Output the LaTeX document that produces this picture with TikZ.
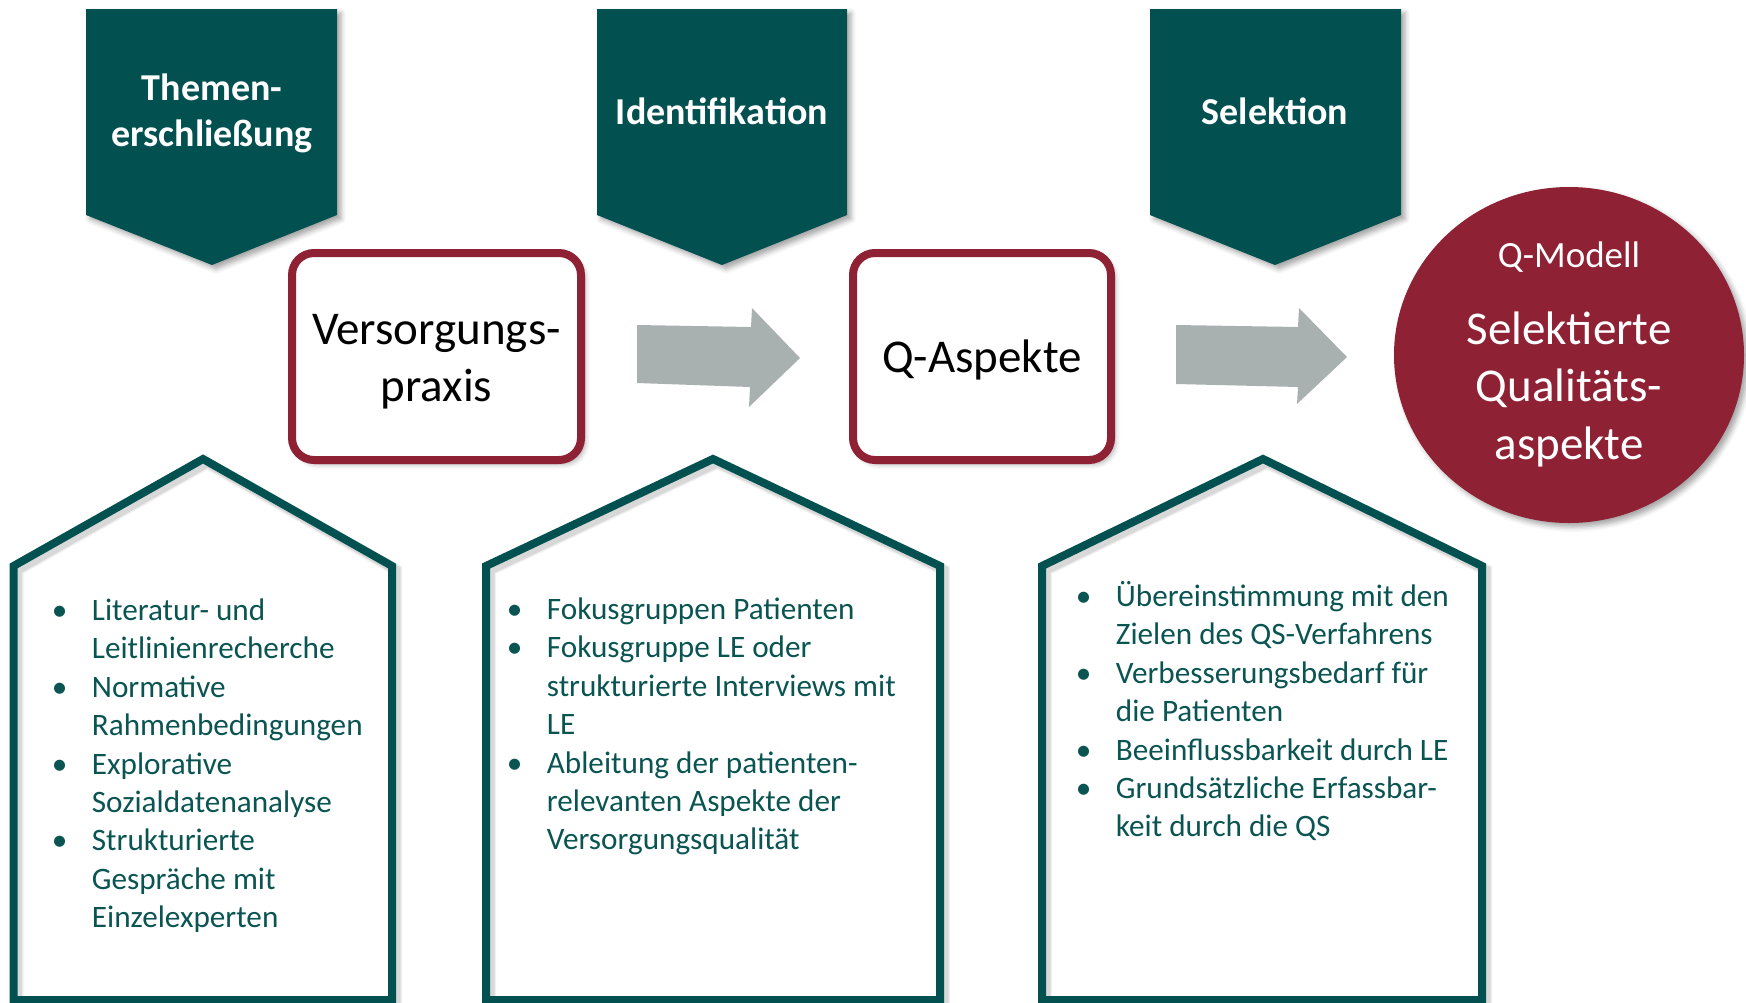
\documentclass[tikz,border=0pt]{standalone}
\usepackage{fontspec}
\setmainfont{Carlito}
\usetikzlibrary{shadows.blur,shapes.geometric}

\definecolor{petrol}{RGB}{2,80,80}
\definecolor{petroltext}{RGB}{10,84,82}
\definecolor{weinrot}{RGB}{142,34,52}
\definecolor{pfeilgrau}{RGB}{169,177,176}

% bullet lists set as a \vtop so that the node baseline is the first line
\newcommand\listenblock[1]{\vtop{\hsize=230pt\parindent=0pt\parskip=0pt
  \baselineskip=19.2pt\raggedright #1}}
\newcommand\pkt{\par\makebox[20pt][l]{\textbullet}}
\newcommand\wtr{\par\hspace*{20pt}}

\tikzset{
  softshadow/.style={blur shadow={shadow xshift=2pt, shadow yshift=-2pt,
      shadow blur radius=2.5pt, shadow opacity=35}},
  chev/.style={fill=petrol, softshadow},
  chevtext/.style={text=white, inner sep=0pt, align=center,
      font=\bfseries\fontsize{19}{23}\selectfont},
  stagebox/.style={draw=weinrot, line width=4pt, rounded corners=11pt,
      fill=white, softshadow, inner sep=0pt},
  stagetext/.style={inner sep=0pt, align=center,
      font=\fontsize{23.5}{28.5}\selectfont},
  result/.style={ellipse, fill=weinrot, softshadow, inner sep=0pt},
  resulttext/.style={text=white, inner sep=0pt, align=center},
  blockarrow/.style={fill=pfeilgrau},
  housecase/.style={draw=petrol, line width=4pt, line join=miter},
  houseshade/.style={draw=black, line join=miter, shift={(4,4)}},
  listtext/.style={text=petroltext, inner sep=0pt, anchor=base west,
      font=\fontsize{15.6}{19.2}\selectfont},
}

\begin{document}
\begin{tikzpicture}[x=0.5pt, y=-0.5pt]
\useasboundingbox (0,0) rectangle (1746,1002);

% process headers
\path[chev] (86,9) -- (337,9) -- (337,215) -- (212,265) -- (86,215) -- cycle;
\path[chev] (597,9) -- (847,9) -- (847,215) -- (722,265) -- (597,215) -- cycle;
\path[chev] (1150,9) -- (1401,9) -- (1401,215) -- (1275,265) -- (1150,215) -- cycle;
\node[chevtext] (h1) at (212,113) {Themen-\\erschließung};
\node[chevtext] (h2) at (722,111) {Identifikation};
\node[chevtext] (h3) at (1275,111) {Selektion};

% stages
\node[stagebox, minimum width=144.5pt, minimum height=103.5pt] (praxis)
  at (436.5,356.5) {};
\node[stagetext] (praxistext) at (436.5,362) {Versorgungs-\\praxis};
\node[stagebox, minimum width=129pt, minimum height=103.5pt] (aspekte)
  at (982,356.5) {};
\node[stagetext] (aspektetext) at (982,359.5) {Q-Aspekte};

% block arrows between the stages
\path[blockarrow] (637,325) -- (751,327) -- (752,308) -- (800,358)
  -- (749,407) -- (750,387) -- (637,383) -- cycle;
\path[blockarrow] (1176,325) -- (1298,327) -- (1299,308) -- (1347,357)
  -- (1297,404) -- (1298,387) -- (1176,384) -- cycle;

% result
\node[result, minimum width=175pt, minimum height=168pt] (modell) at (1569,355) {};
\node[resulttext, anchor=base, font=\fontsize{18.5}{22}\selectfont] (mtitel)
  at (1569,267) {Q-Modell};
\node[resulttext, anchor=base, font=\fontsize{23.5}{28.5}\selectfont] (mtext)
  at (1569,344) {\vtop{\hsize=170pt\parindent=0pt\parskip=0pt\baselineskip=28.75pt
  \centering Selektierte\par Qualitäts-\par aspekte\par}};

% method houses: soft outline shadow, then the outline
\foreach \xl/\xm/\xr in {13.5/203/392, 486/713/940, 1042/1263/1482}{
  \draw[houseshade, line width=6pt, opacity=0.06]
    (\xl,1000) -- (\xl,566) -- (\xm,459) -- (\xr,566) -- (\xr,1000) -- cycle;
  \draw[houseshade, line width=4.5pt, opacity=0.10]
    (\xl,1000) -- (\xl,566) -- (\xm,459) -- (\xr,566) -- (\xr,1000) -- cycle;
  \draw[housecase]
    (\xl,1000) -- (\xl,566) -- (\xm,459) -- (\xr,566) -- (\xr,1000) -- cycle;
}

\node[listtext] (l1) at (51.5,620.5) {\listenblock{%
  \pkt Literatur- und
  \wtr Leitlinienrecherche
  \pkt Normative
  \wtr Rahmenbedingungen
  \pkt Explorative
  \wtr Sozialdatenanalyse
  \pkt Strukturierte
  \wtr Gespräche mit
  \wtr Einzelexperten\par}};

\node[listtext] (l2) at (506.5,619.5) {\listenblock{%
  \pkt Fokusgruppen Patienten
  \pkt Fokusgruppe LE oder
  \wtr strukturierte Interviews mit
  \wtr LE
  \pkt Ableitung der patienten-
  \wtr relevanten Aspekte der
  \wtr Versorgungsqualität\par}};

\node[listtext] (l3) at (1075.5,606.5) {\listenblock{%
  \pkt Übereinstimmung mit den
  \wtr Zielen des QS-Verfahrens
  \pkt Verbesserungsbedarf für
  \wtr die Patienten
  \pkt Beeinflussbarkeit durch LE
  \pkt Grundsätzliche Erfassbar-
  \wtr keit durch die QS\par}};
\end{tikzpicture}
\end{document}
